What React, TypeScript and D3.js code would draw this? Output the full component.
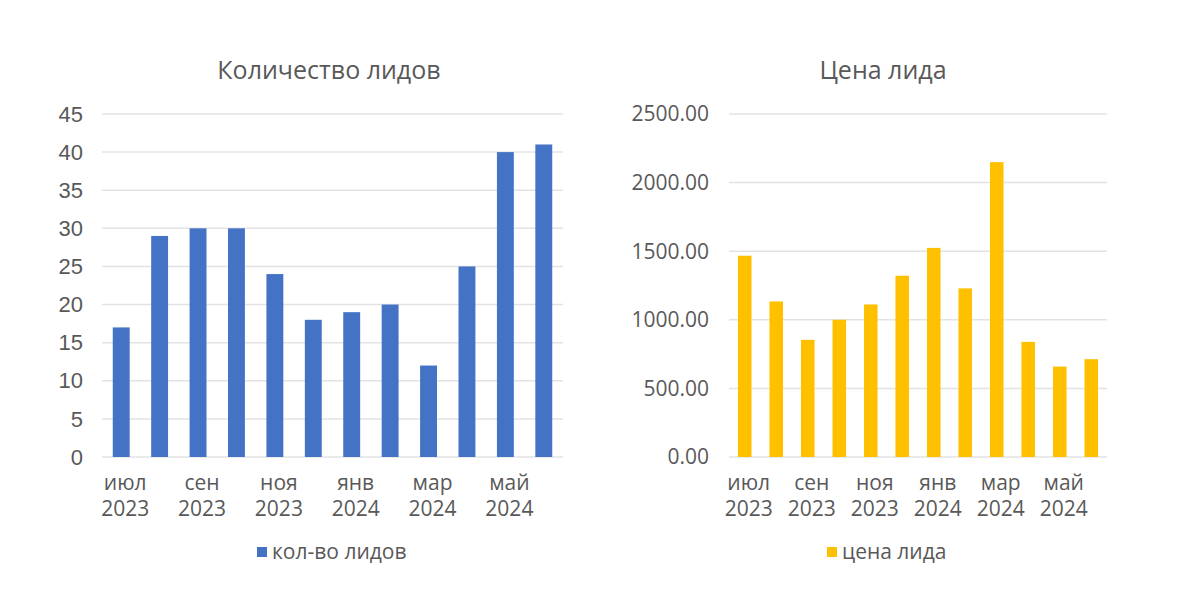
import * as d3 from 'd3';
import { useEffect, useRef } from 'react';

// месяцы (подписи по оси x показываются через один)
const months = ['июл', 'авг', 'сен', 'окт', 'ноя', 'дек', 'янв', 'фев', 'мар', 'апр', 'май', 'июн'];
const years = ['2023', '2023', '2023', '2023', '2023', '2023', '2024', '2024', '2024', '2024', '2024', '2024'];

const leads = [17, 29, 30, 30, 24, 18, 19, 20, 12, 25, 40, 41];
const leadPrice = [1467, 1134, 854, 1000, 1112, 1321, 1524, 1229, 2149, 839, 659, 713];

const leadsTicks = [0, 5, 10, 15, 20, 25, 30, 35, 40, 45];
const priceTicks = [0, 500, 1000, 1500, 2000, 2500];

const FONT = '"Open Sans", sans-serif';
const TEXT = '#595959';
const GRID = '#e3e3e3';

type ChartCfg = {
  title: string;
  legend: string;
  values: number[];
  ticks: number[];
  fmt: (v: number) => string;
  tickFont: string;
  tickSize: number;
  color: string;
  x0: number;
  x1: number;
  tickX: number;
  barPad: number;
  titleX: number;
  legendX: number;
};

const charts: ChartCfg[] = [
  {
    title: 'Количество лидов',
    legend: 'кол-во лидов',
    values: leads,
    ticks: leadsTicks,
    fmt: d => String(d),
    tickFont: '"Liberation Sans", Arial, sans-serif',
    tickSize: 22,
    color: '#4472c4',
    x0: 102,
    x1: 563,
    tickX: 83,
    barPad: 0.56,
    titleX: 329,
    legendX: 257,
  },
  {
    title: 'Цена лида',
    legend: 'цена лида',
    values: leadPrice,
    ticks: priceTicks,
    fmt: d => d.toFixed(2),
    tickFont: FONT,
    tickSize: 21,
    color: '#ffc000',
    x0: 729,
    x1: 1107,
    tickX: 709,
    barPad: 0.57,
    titleX: 883,
    legendX: 827,
  },
];

export default function App() {
  const svgRef = useRef<SVGSVGElement | null>(null);

  useEffect(() => {
    if (!svgRef.current) return;
    const svg = d3.select(svgRef.current);
    svg.selectAll('*').remove();

    const yTop = 114;
    const yBottom = 457;

    charts.forEach(c => {
      const g = svg.append('g');

      const x = d3.scaleBand<number>()
        .domain(d3.range(c.values.length))
        .range([c.x0, c.x1])
        .paddingInner(c.barPad)
        .paddingOuter(c.barPad / 2);

      const y = d3.scaleLinear()
        .domain([0, c.ticks[c.ticks.length - 1]])
        .range([yBottom, yTop]);

      // сетка
      g.append('g')
        .selectAll('line')
        .data(c.ticks)
        .join('line')
        .attr('x1', c.x0)
        .attr('x2', c.x1)
        .attr('y1', d => y(d))
        .attr('y2', d => y(d))
        .attr('stroke', GRID)
        .attr('stroke-width', 1.5);

      // подписи оси y
      g.append('g')
        .selectAll('text')
        .data(c.ticks)
        .join('text')
        .attr('x', c.tickX)
        .attr('y', d => y(d))
        .attr('dy', '0.35em')
        .attr('text-anchor', 'end')
        .attr('font-family', c.tickFont)
        .attr('font-size', c.tickSize)
        .attr('fill', TEXT)
        .text(d => c.fmt(d));

      // столбцы
      g.append('g')
        .selectAll('rect')
        .data(c.values)
        .join('rect')
        .attr('x', (_, i) => x(i)!)
        .attr('y', d => y(d))
        .attr('width', x.bandwidth())
        .attr('height', d => yBottom - y(d))
        .attr('fill', c.color);

      // подписи оси x
      const lbl = g.append('g')
        .selectAll('text')
        .data(d3.range(0, c.values.length, 2))
        .join('text')
        .attr('text-anchor', 'middle')
        .attr('font-family', FONT)
        .attr('font-size', 21)
        .attr('fill', TEXT);
      lbl.append('tspan')
        .attr('x', i => x(i)! + x.bandwidth() / 2 + 4)
        .attr('y', 490)
        .text(i => months[i]);
      lbl.append('tspan')
        .attr('x', i => x(i)! + x.bandwidth() / 2 + 4)
        .attr('y', 516)
        .text(i => years[i]);

      // заголовок
      g.append('text')
        .attr('x', c.titleX)
        .attr('y', 79)
        .attr('text-anchor', 'middle')
        .attr('font-family', FONT)
        .attr('font-size', 25)
        .attr('fill', TEXT)
        .text(c.title);

      // легенда
      g.append('rect')
        .attr('x', c.legendX)
        .attr('y', 547)
        .attr('width', 10)
        .attr('height', 10)
        .attr('fill', c.color);
      g.append('text')
        .attr('x', c.legendX + 15)
        .attr('y', 559)
        .attr('font-family', FONT)
        .attr('font-size', 21)
        .attr('fill', TEXT)
        .text(c.legend);
    });
  }, []);

  return (
    <svg
      ref={svgRef}
      width={1200}
      height={598}
      style={{ position: 'absolute', left: 0, top: 0, background: '#fff' }}
    />
  );
}
